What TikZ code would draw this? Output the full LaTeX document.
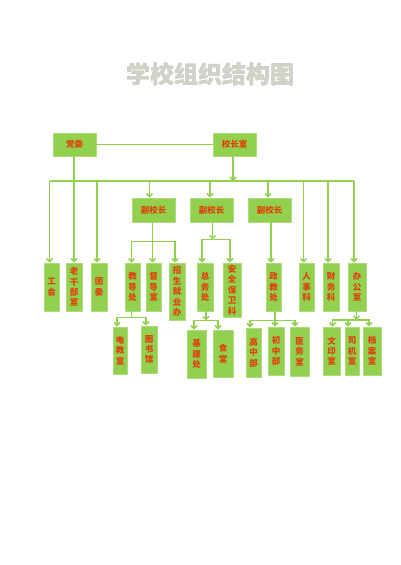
\documentclass[tikz,border=0pt]{standalone}
\usepackage{fontspec}
\newfontfamily\cjk{Noto Sans CJK SC}
\usetikzlibrary{arrows.meta}
\definecolor{boxfill}{HTML}{92D050}
\definecolor{boxborder}{HTML}{AEDC7C}
\definecolor{linegreen}{HTML}{92D050}
\definecolor{txtred}{HTML}{E0400C}
\definecolor{titlegray}{HTML}{D0D3CA}
\definecolor{titleshadow}{HTML}{AAB39A}
\tikzset{
  bx/.style={draw=boxborder, fill=boxfill, line width=0.8pt, inner sep=0pt,
    font=\cjk\bfseries\fontsize{8.5}{10.4}\selectfont, text=txtred, align=center},
  ln/.style={draw=linegreen, line width=1.5pt},
  arr/.style={ln, -{Straight Barb[length=3pt,width=6pt]}},
  ttl/.style={font=\cjk\bfseries\fontsize{24}{24}\selectfont, inner sep=0pt}
}
\newcommand\bxat[6]{\node[bx, minimum width={#3pt-#2pt}, minimum height={#5pt-#4pt}] (#1) at ({(#2+#3)/2},{(#4+#5)/2}) {#6};}
\begin{document}
\begin{tikzpicture}[x=1pt,y=-1pt]
\useasboundingbox[fill=white] (0,0) rectangle (400,565);
% title
\node[ttl, text=titleshadow] (titlesh) at (210.6,74.6) {学校组织结构图};
\node[ttl, text=titlegray] (title) at (210,74) {学校组织结构图};
% level 1
\bxat{dangwei}{53}{96}{133}{156}{党委}
\bxat{xiaozhang}{213}{256}{133}{156}{校长室}
% level 2
\bxat{fu1}{132}{175}{198}{222}{副校长}
\bxat{fu2}{190}{233}{198}{222}{副校长}
\bxat{fu3}{248}{291}{198}{222}{副校长}
% level 3
\bxat{gonghui}{44}{59}{263}{311}{工\\会}
\bxat{laogan}{66}{82}{263}{311}{老\\干\\部\\室}
\bxat{tuanwei}{91}{107}{263}{311}{团\\委}
\bxat{jiaodao}{125}{140}{263}{311}{教\\导\\处}
\bxat{dudao}{146}{161}{263}{311}{督\\导\\室}
\bxat{zhaosheng}{169}{185}{263}{320}{招\\生\\就\\业\\办}
\bxat{zongwu}{197}{213}{263}{311}{总\\务\\处}
\bxat{anquan}{223}{241}{263}{317}{安\\全\\保\\卫\\科}
\bxat{zhengjiao}{266}{281}{263}{311}{政\\教\\处}
\bxat{renshi}{299}{314}{263}{311}{人\\事\\科}
\bxat{caiwu}{323}{339}{263}{311}{财\\务\\科}
\bxat{bangong}{348}{366}{263}{311}{办\\公\\室}
% level 4
\bxat{dianjiao}{113}{127}{327}{374}{电\\教\\室}
\bxat{tushu}{141}{157}{326}{373}{图\\书\\馆}
\bxat{jijian}{187}{206}{330}{378}{基\\建\\处}
\bxat{shitang}{213}{233}{330}{377}{食\\堂}
\bxat{gaozhong}{246}{261}{328}{377}{高\\中\\部}
\bxat{chuzhong}{268}{284}{327}{375}{初\\中\\部}
\bxat{yiwu}{290}{309}{327}{376}{医\\务\\室}
\bxat{wenyin}{323}{340}{327}{375}{文\\印\\室}
\bxat{siji}{345}{359}{327}{375}{司\\机\\室}
\bxat{dangan}{363}{381}{327}{375}{档\\案\\室}
% connectors top
\coordinate (busy) at (0,181);
\draw[ln] (dangwei.east) -- (xiaozhang.west);
\draw[ln] ([xshift=-2pt]gonghui.north |- busy) -- ([xshift=-3pt]bangong.north |- busy);
\draw[arr] ([xshift=-1.5pt]xiaozhang.south) -- ([xshift=-1.5pt]xiaozhang.south |- busy);
\draw[arr] (laogan.north |- dangwei.south) -- (laogan.north);
\draw[arr] ([xshift=-2pt]gonghui.north |- busy) -- ([xshift=-2pt]gonghui.north);
\draw[arr] ([xshift=-2pt]tuanwei.north |- busy) -- ([xshift=-2pt]tuanwei.north);
\draw[arr] ([xshift=-4pt]fu1.north |- busy) -- ([xshift=-4pt]fu1.north);
\draw[arr] ([xshift=-1.5pt]fu2.north |- busy) -- ([xshift=-1.5pt]fu2.north);
\draw[arr] ([xshift=-1.5pt]fu3.north |- busy) -- ([xshift=-1.5pt]fu3.north);
\draw[arr] ([xshift=-3pt]renshi.north |- busy) -- ([xshift=-3pt]renshi.north);
\draw[arr] ([xshift=-3pt]caiwu.north |- busy) -- ([xshift=-3pt]caiwu.north);
\draw[arr] ([xshift=-3pt]bangong.north |- busy) -- ([xshift=-3pt]bangong.north);
% fu1 group
\draw[ln] ([xshift=-1pt]fu1.south) -- ++(0,19) coordinate (b1);
\draw[arr] (b1) -| ([xshift=-1pt]jiaodao.north);
\draw[arr] (b1) -| ([xshift=-2pt]zhaosheng.north);
\draw[arr] (b1) -- ([xshift=-1pt]dudao.north);
% fu2 group
\draw[arr] ([xshift=1pt]fu2.south) -- ++(0,17) coordinate (b2);
\draw[arr] (b2) -| ([xshift=-3pt]zongwu.north);
\draw[arr] (b2) -| ([xshift=-2pt]anquan.north);
% fu3
\draw[arr] ([xshift=-2.5pt]zhengjiao.north |- fu3.south) -- ([xshift=-2.5pt]zhengjiao.north);
% jiaodao group
\draw[ln] ([xshift=-1pt]jiaodao.south) -- ++(0,6) coordinate (b4);
\draw[arr] (b4) -| ([xshift=-3pt]dianjiao.north);
\draw[arr] (b4) -| ([xshift=-3pt]tushu.north);
% zongwu group
\draw[arr] ([xshift=1pt]zongwu.south) -- ++(0,9) coordinate (b5);
\draw[arr] (b5) -| ([xshift=-2.5pt]jijian.north);
\draw[arr] (b5) -| ([xshift=-5pt]shitang.north);
% zhengjiao group
\draw[ln] ([xshift=1.5pt]zhengjiao.south) -- ++(0,9) coordinate (b6);
\draw[arr] (b6) -| ([xshift=-3.5pt]gaozhong.north);
\draw[arr] (b6) -- (b6 |- chuzhong.north);
\draw[arr] (b6) -| ([xshift=-4.5pt]yiwu.north);
% bangong group
\draw[arr] ([xshift=-0.5pt]bangong.south) -- ++(0,8.5) coordinate (b7);
\draw[arr] (b7) -| ([xshift=1pt]wenyin.north);
\draw[arr] (b7) -| ([xshift=-4pt]siji.north);
\draw[arr] (b7) -| ([xshift=-3pt]dangan.north);
\end{tikzpicture}
\end{document}
